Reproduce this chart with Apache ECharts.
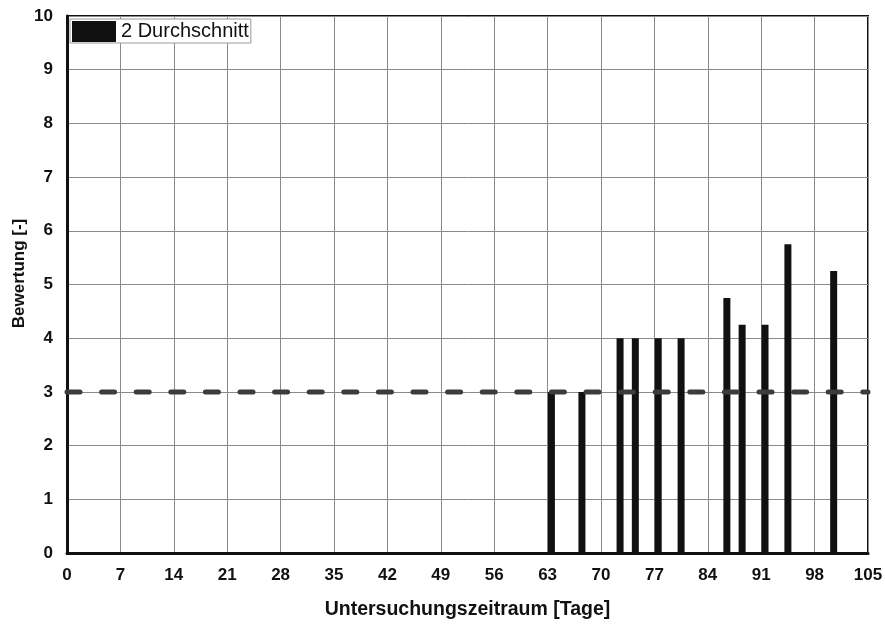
<!DOCTYPE html>
<html>
<head>
<meta charset="utf-8">
<script src="https://cdn.jsdelivr.net/npm/echarts@6/dist/echarts.min.js"></script>
<style>
  html, body { margin: 0; padding: 0; background: #fff; }
  #chart { width: 885px; height: 626px; }
</style>
</head>
<body>
<div id="chart"></div>
<script>
// Rating per observation day (bar drawn across that day)
const days = [63, 67, 72, 74, 77, 80, 86, 88, 91, 94, 100];
const ratings = [3, 3, 4, 4, 4, 4, 4.75, 4.25, 4.25, 5.75, 5.25];
const averageRating = 3;
const seriesName = '2 Durchschnitt';
const xTicks = [0, 7, 14, 21, 28, 35, 42, 49, 56, 63, 70, 77, 84, 91, 98, 105];
const yTicks = [0, 1, 2, 3, 4, 5, 6, 7, 8, 9, 10];

const sans = '"Liberation Sans", Arial, sans-serif';
const tickFont = { fontFamily: sans, fontWeight: 'bold', fontSize: 17, color: '#111' };

const chart = echarts.init(document.getElementById('chart'));
chart.setOption({
  animation: false,
  grid: {
    left: 67, right: 17, top: 16, bottom: 73,
    outerBoundsMode: 'none',
    show: true, borderColor: '#111', borderWidth: 2
  },
  legend: {
    data: [seriesName],
    left: 70, top: 19,
    orient: 'vertical',
    itemWidth: 44, itemHeight: 21,
    itemGap: 0,
    padding: [2, 2, 1, 2],
    backgroundColor: '#fff',
    borderColor: '#999', borderWidth: 1, borderRadius: 0,
    textStyle: { fontFamily: sans, fontSize: 20, color: '#111' },
    icon: 'rect'
  },
  xAxis: {
    type: 'value',
    min: xTicks[0], max: xTicks[xTicks.length - 1], interval: 7,
    name: 'Untersuchungszeitraum [Tage]',
    nameLocation: 'middle', nameGap: 47,
    nameTextStyle: { fontFamily: sans, fontWeight: 'bold', fontSize: 19.5, color: '#111' },
    axisLine: { show: true, onZero: false, lineStyle: { color: '#111', width: 3 } },
    axisTick: { show: false },
    axisLabel: Object.assign({ margin: 14 }, tickFont),
    splitLine: { show: true, lineStyle: { color: '#8a8a8a', width: 1 } }
  },
  yAxis: {
    type: 'value',
    min: yTicks[0], max: yTicks[yTicks.length - 1], interval: 1,
    name: 'Bewertung [-]',
    nameLocation: 'middle', nameGap: 39,
    nameMoveOverlap: false,
    nameTextStyle: { fontFamily: sans, fontWeight: 'bold', fontSize: 17, color: '#111', padding: [0, 0, 0, 22] },
    axisLine: { show: true, lineStyle: { color: '#111', width: 3 } },
    axisTick: { show: false },
    axisLabel: Object.assign({ margin: 14 }, tickFont),
    splitLine: { show: true, lineStyle: { color: '#8a8a8a', width: 1 } }
  },
  series: [
    {
      name: seriesName,
      type: 'bar',
      barWidth: 7,
      itemStyle: { color: '#111' },
      data: days.map((d, i) => [d + 0.5, ratings[i]]),
      z: 3
    },
    {
      name: 'Mittelwert',
      type: 'line',
      symbol: 'none',
      silent: true,
      lineStyle: { color: '#3c3c3c', width: 5, type: [13, 21.6], cap: 'round' },
      data: [[xTicks[0], averageRating], [xTicks[xTicks.length - 1], averageRating]],
      z: 4
    }
  ]
});
</script>
</body>
</html>
